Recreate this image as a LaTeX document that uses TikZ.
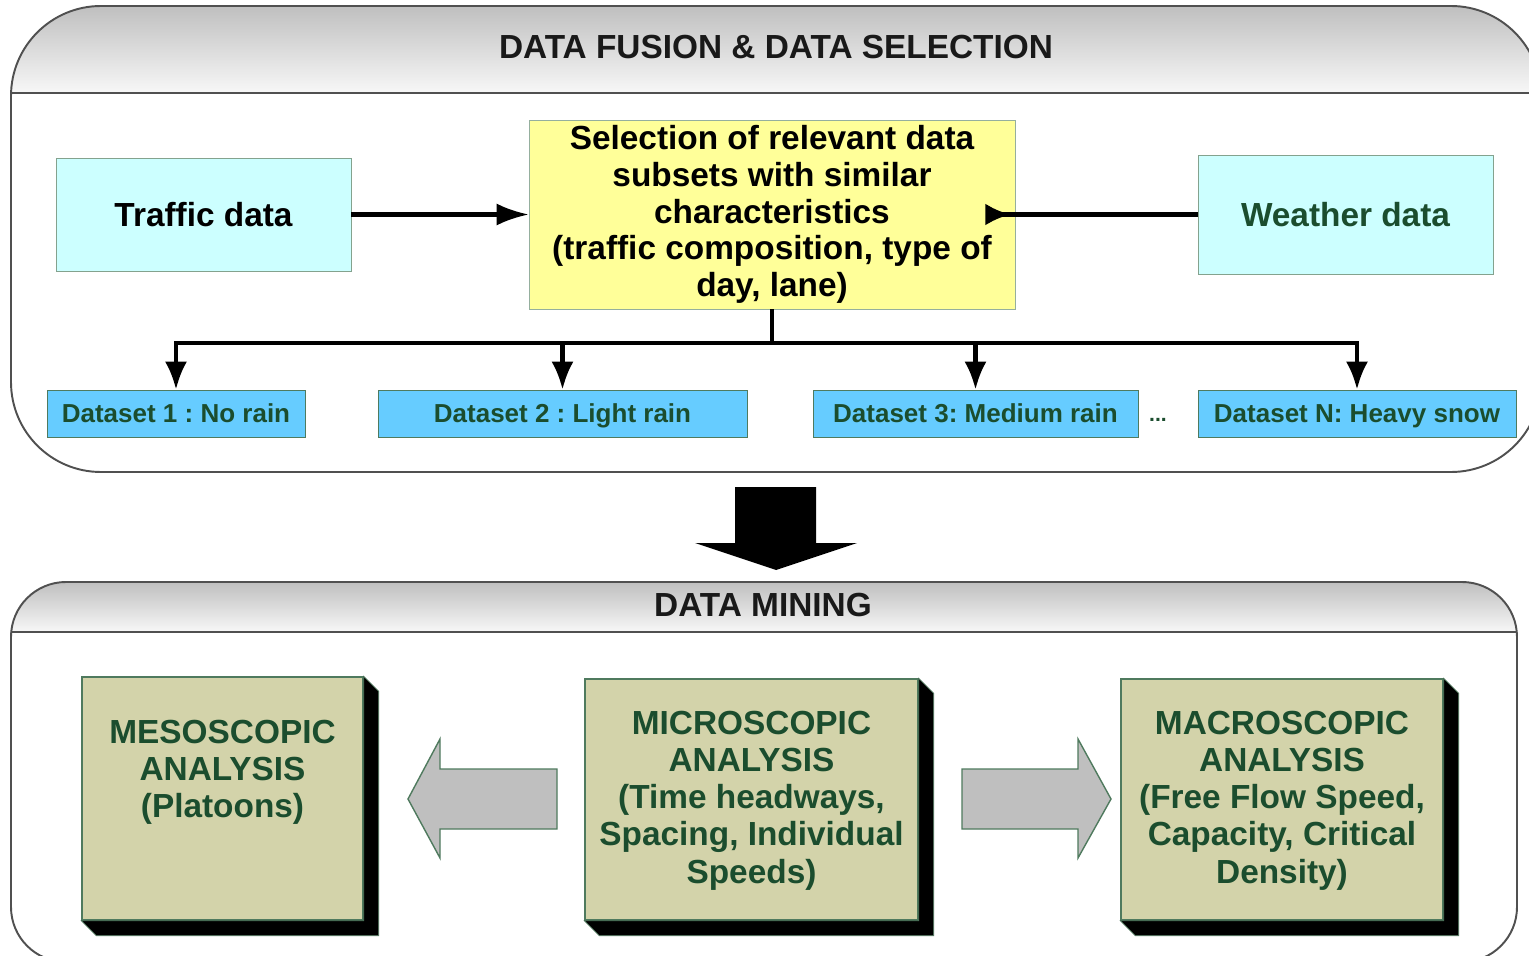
\documentclass[tikz,border=0pt]{standalone}
\usepackage{fontspec}
\setmainfont{Liberation Sans}
\frenchspacing
\usetikzlibrary{arrows.meta, positioning, calc}
\definecolor{fuse_green}{HTML}{1B4D2E}
\definecolor{fuse_edge}{HTML}{4F7A5E}
\definecolor{fuse_cyan}{HTML}{CCFFFF}
\definecolor{fuse_yellow}{HTML}{FFFF99}
\definecolor{fuse_sky}{HTML}{66CCFF}
\definecolor{fuse_olive}{HTML}{D3D3AA}
\definecolor{fuse_panel}{HTML}{505050}
\tikzset{
  panel/.style={draw=fuse_panel,line width=1.1pt},
  paneltitle/.style={font=\fontsize{19}{21}\selectfont\bfseries,text=black!90},
  source/.style={rectangle,draw=fuse_edge!70,fill=fuse_cyan,font=\fontsize{19}{21}\selectfont\bfseries,minimum width=5.9cm,inner sep=0},
  selection/.style={rectangle,draw=fuse_edge!60,fill=fuse_yellow,align=center,font=\fontsize{19}{21}\selectfont\bfseries,minimum width=9.72cm,minimum height=3.78cm,inner sep=0},
  dataset/.style={rectangle,draw=fuse_edge,fill=fuse_sky,text=fuse_green,font=\fontsize{14.8}{17}\selectfont\bfseries,minimum height=0.94cm,inner sep=0,text height=12pt,text depth=1.4pt},
  analysis/.style={rectangle,draw=fuse_edge,line width=0.8pt,fill=fuse_olive,minimum height=4.82cm,inner sep=0},
  analysistext/.style={text=fuse_green,align=center,font=\fontsize{19}{21.2}\selectfont\bfseries},
  link/.style={line width=2.3pt,-{Latex[length=6.4mm,width=4.4mm]}},
  drop/.style={line width=2.3pt,-{Latex[length=5.6mm,width=4.4mm]}},
  backlink/.style={line width=2.3pt,-{Latex[length=5mm,width=4.4mm,reversed]}},
  blockarrow/.style={fill=black!25,draw=fuse_edge,line width=0.8pt},
}

\begin{document}
\begin{tikzpicture}[x=0.02cm,y=-0.02cm]
  \useasboundingbox (0,0) rectangle (1529,956);

  % upper panel
  \begin{scope}
    \clip[rounded corners=1.8cm] (11,6) rectangle (1541,472);
    \shade[top color=black!25,bottom color=black!3] (11,6) rectangle (1541,93);
  \end{scope}
  \draw[panel,rounded corners=1.8cm] (11,6) rectangle (1541,472);
  \draw[panel] (11,93) -- (1541,93);
  \node[paneltitle] (fusiontitle) at (776,47) {DATA FUSION \& DATA SELECTION};

  \node[source,minimum height=2.26cm] (traffic) at (203.5,214.5) {Traffic data};
  \node[source,minimum height=2.38cm,text=fuse_green] (weather) at (1345.5,214.5) {Weather data};
  \node[selection,text depth=4pt] (sel) at (772,214.5) {Selection of relevant data\\subsets with similar\\characteristics\\ (traffic composition, type of\\day, lane)};

  \node[dataset,minimum width=5.16cm] (d1) at (176,413.5) {Dataset 1 : No rain};
  \node[dataset,minimum width=7.38cm] (d2) at (562.5,413.5) {Dataset 2 : Light rain};
  \node[dataset,minimum width=6.5cm] (d3) at (975.5,413.5) {Dataset 3: Medium rain};
  \node[dataset,minimum width=6.36cm] (dn) at (1357,413.5) {Dataset N: Heavy snow};
  \node[text=fuse_green,font=\fontsize{12}{14}\selectfont\bfseries] (more) at (1158,420) {...};

  \coordinate (wend) at ($(sel.east)+(-30,0)$);
  \coordinate (split) at ($(sel.south)+(0,34)$);
  \draw[link] (traffic) -- (sel);
  \draw[backlink] (weather) -- (wend);
  \foreach \d in {d1,d2,d3,dn}
    \draw[drop] (sel.south) -- (split) -| (\d.north);

  % big arrow between the panels
  \fill[black] (735,487) -- (816,487) -- (816,543) -- (857,543) -- (776,570)
    -- (695,543) -- (735,543) -- cycle;

  % lower panel
  \begin{scope}
    \clip[rounded corners=1.1cm] (11,582) rectangle (1517,962);
    \shade[top color=black!25,bottom color=black!3] (11,582) rectangle (1517,632);
  \end{scope}
  \draw[panel,rounded corners=1.1cm] (11,582) rectangle (1517,962);
  \draw[panel] (11,632) -- (1517,632);
  \node[paneltitle] (miningtitle) at (763,605) {DATA MINING};

  \node[analysis,minimum width=5.62cm,minimum height=4.86cm] (meso) at (222.5,798.5) {};
  \node[analysis,minimum width=6.66cm] (micro) at (751.5,799.5) {};
  \node[analysis,minimum width=6.44cm] (macro) at (1282,799.5) {};
  \foreach \b in {meso,micro,macro}{
    \filldraw[fill=black,draw=fuse_edge,line width=0.4pt] (\b.north east) -- ++(15,15)
      -- ($(\b.south east)+(15,15)$) -- ($(\b.south west)+(15,15)$) -- (\b.south west)
      -- (\b.south east) -- cycle;
  }
  \node[analysistext] (mesotext) at ($(meso.center)+(0,-26)$) {MESOSCOPIC\\ANALYSIS\\(Platoons)};
  \node[analysistext] (microtext) at ($(micro.center)+(0,1)$) {MICROSCOPIC\\ANALYSIS\\(Time headways,\\Spacing, Individual\\Speeds)};
  \node[analysistext] (macrotext) at ($(macro.center)+(0,1)$) {MACROSCOPIC\\ANALYSIS\\(Free Flow Speed,\\Capacity, Critical\\Density)};

  \draw[blockarrow] (557,769) -- (440,769) -- (440,739) -- (408,799) -- (440,858)
    -- (440,829) -- (557,829) -- cycle;
  \draw[blockarrow] (962,769) -- (1078,769) -- (1078,739) -- (1111,799) -- (1078,858)
    -- (1078,829) -- (962,829) -- cycle;
\end{tikzpicture}
\end{document}
